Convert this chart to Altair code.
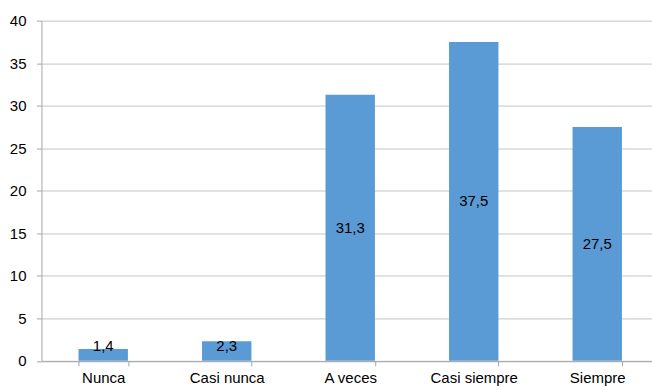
import altair as alt
import pandas as pd

categories = ["Nunca", "Casi nunca", "A veces", "Casi siempre", "Siempre"]
values = [1.4, 2.3, 31.3, 37.5, 27.5]

df = pd.DataFrame({"cat": categories, "v": values})

FONT = "Liberation Sans"

x = alt.X(
    "cat:N",
    sort=categories,
    scale=alt.Scale(range=[0, 618], paddingInner=0.6, paddingOuter=0.3),
    axis=alt.Axis(
        title=None,
        labelAngle=0,
        labelFont=FONT,
        labelFontSize=15,
        labelColor="#000000",
        labelPadding=5,
        domainColor="#A6A6A6",
        tickColor="#A6A6A6",
        tickSize=5,
        tickBand="extent",
        grid=False,
    ),
)

base = alt.Chart(df)

bars = base.mark_bar(color="#5B9BD5").encode(
    x=x,
    y=alt.Y(
        "v:Q",
        scale=alt.Scale(domain=[0, 40], nice=False),
        axis=alt.Axis(
            title=None,
            values=[0, 5, 10, 15, 20, 25, 30, 35, 40],
            labelFont=FONT,
            labelFontSize=15,
            labelColor="#000000",
            labelPadding=10.5,
            gridColor="#C4C4C4",
            domainColor="#A6A6A6",
            tickColor="#A6A6A6",
            tickSize=5,
        ),
    ),
)

labels = base.transform_calculate(
    pos="max(datum.v / 2, 1.8)",
    lab="replace(format(datum.v, '.1f'), '.', ',')",
).mark_text(font=FONT, fontSize=15, color="#000000", baseline="middle").encode(
    x=alt.X("cat:N", sort=categories),
    y=alt.Y("pos:Q"),
    text="lab:N",
)

chart = (
    alt.layer(bars, labels)
    .properties(
        width=611,
        height=340.5,
        autosize=alt.AutoSizeParams(type="none"),
        padding={"left": 41.5, "top": 20.5, "right": 0, "bottom": 26},
        background="white",
    )
    .configure_view(stroke=None)
)

chart.save("out.html", embed_options={"renderer": "svg", "actions": False})
